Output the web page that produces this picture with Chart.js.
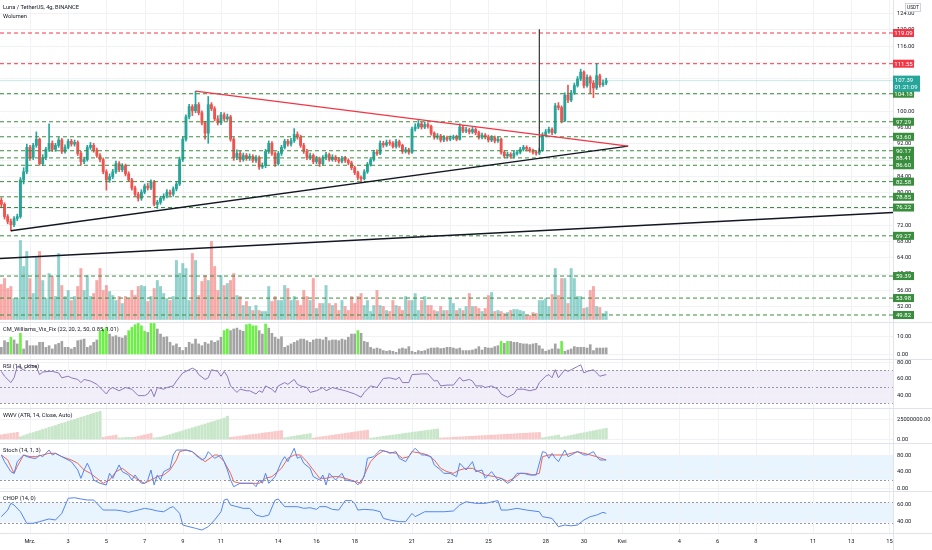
<!DOCTYPE html>
<html>
<head>
<meta charset="utf-8">
<script src="https://cdn.jsdelivr.net/npm/chart.js@4.4.1/dist/chart.umd.min.js"></script>
<style>
html, body { margin: 0; padding: 0; background: #fff; }
#wrap { position: relative; width: 932px; height: 550px; overflow: hidden; }
#wrap canvas { position: absolute; left: 0; }
</style>
</head>
<body>
<div id="wrap">
  <canvas id="cPrice" width="932" height="322" style="top:0px"></canvas>
  <canvas id="cVix" width="932" height="37" style="top:322px"></canvas>
  <canvas id="cRsi" width="932" height="49" style="top:359px"></canvas>
  <canvas id="cWwv" width="932" height="35" style="top:408px"></canvas>
  <canvas id="cStoch" width="932" height="48" style="top:443px"></canvas>
  <canvas id="cChop" width="932" height="59" style="top:491px"></canvas>
</div>
<script>
const FONT = 'Roboto, "Liberation Sans", sans-serif';

// LUNA/USDT 4h candles, 27 Feb 12:00 .. 31 Mar
const opens = [78.0,77.0,74.0,72.8,72.0,73.5,74.0,83.0,85.0,91.0,
88.5,91.5,93.0,87.0,88.5,90.5,92.0,90.5,91.5,92.8,
90.0,91.0,92.5,91.8,92.2,89.5,87.5,88.0,91.0,91.5,
90.3,89.0,88.0,85.0,83.0,83.8,85.0,87.0,85.5,86.5,
84.5,83.0,81.0,79.5,78.5,80.0,81.5,81.0,82.5,77.0,
77.5,78.5,79.0,80.0,79.5,80.8,82.0,88.0,93.0,98.5,
101.0,100.0,101.5,99.5,97.0,94.5,101.5,100.5,98.0,97.0,
99.0,98.0,98.5,93.0,88.5,89.5,88.0,89.0,88.3,88.8,
87.8,88.5,86.2,86.5,90.0,92.0,89.5,87.0,89.5,91.0,
92.5,91.8,92.6,94.2,93.5,91.5,90.0,88.5,89.0,87.5,
88.2,87.0,88.5,89.2,88.0,88.6,88.0,87.6,88.3,87.8,
87.2,86.0,84.8,83.6,83.3,85.0,86.8,88.0,89.8,89.5,
92.0,91.6,92.2,92.0,91.2,92.4,91.5,90.0,90.4,89.8,
95.5,96.0,96.8,96.0,96.6,96.2,94.5,93.5,93.8,92.8,
93.4,93.0,93.3,93.6,93.0,96.0,95.0,95.3,94.8,95.4,
94.6,93.5,94.0,93.6,92.8,93.4,92.6,93.0,89.8,88.9,
89.3,88.8,89.5,89.8,90.5,91.0,90.6,90.2,89.8,89.6,
90.2,94.0,94.8,95.4,94.6,101.2,100.8,97.6,103.8,102.6,
104.4,106.2,107.8,109.5,106.2,108.2,106.8,105.6,108.6,106.4,
106.8];
const highs = [78.6,77.4,74.5,73.4,74.0,74.6,83.6,86.0,91.8,91.5,
92.0,94.8,93.3,89.2,91.0,96.8,92.6,92.0,93.4,93.2,
91.6,93.0,93.0,92.8,92.6,90.0,88.6,91.5,92.2,92.0,
90.8,89.5,88.4,85.5,84.5,85.6,87.6,87.5,87.0,86.9,
85.0,83.4,81.5,80.0,80.6,82.0,82.2,83.0,82.9,78.0,
79.0,79.6,80.6,80.5,81.3,82.6,88.6,93.6,99.0,101.6,
101.5,104.8,102.0,100.0,97.4,103.5,102.0,101.0,98.8,99.6,
99.5,99.2,98.9,93.4,90.4,90.0,89.6,89.5,89.4,89.2,
89.0,88.9,87.2,90.5,92.6,92.4,89.9,90.0,91.5,93.0,
93.0,93.2,95.6,94.8,94.0,92.0,90.5,89.6,89.4,88.8,
88.6,89.0,89.8,89.6,89.2,89.0,88.5,88.8,88.8,88.2,
87.6,86.4,85.2,84.0,85.5,87.3,88.5,90.3,90.4,92.6,
92.5,92.8,92.8,92.4,93.0,92.8,91.8,91.0,90.8,96.0,
96.8,97.6,97.2,97.3,97.0,96.5,94.8,94.4,94.2,93.9,
93.8,93.8,94.0,94.0,96.8,96.4,95.9,95.7,95.9,95.8,
95.0,94.5,94.4,94.0,93.9,93.8,93.5,93.3,90.2,89.8,
89.7,90.0,90.3,91.0,91.5,91.4,91.0,90.6,90.2,90.8,
94.6,95.4,96.0,95.8,101.8,102.0,101.2,104.4,106.3,105.0,
106.8,108.4,110.2,109.8,108.8,108.6,107.4,111.6,109.0,107.6,
108.0];
const lows = [76.3,73.4,72.2,70.5,71.5,73.0,73.6,82.0,84.5,87.8,
88.0,91.0,86.6,86.5,88.0,90.0,90.0,90.0,91.0,89.5,
89.6,90.6,91.3,91.3,89.0,86.6,87.0,87.6,90.5,89.8,
88.5,87.4,84.5,80.5,82.4,83.3,84.6,85.0,85.0,84.0,
82.6,80.5,79.0,77.8,78.0,79.6,80.5,80.6,76.6,76.0,
77.0,78.0,78.6,79.0,79.0,80.3,81.6,87.5,92.5,98.0,
98.8,99.5,99.0,96.5,93.0,92.0,100.0,97.5,96.5,96.6,
97.5,97.6,92.5,87.8,88.0,87.4,87.6,87.8,87.8,87.3,
87.3,85.6,85.8,86.0,89.5,89.0,86.3,86.6,89.0,90.6,
91.3,91.3,92.2,93.0,91.0,89.5,88.0,88.0,87.0,87.0,
86.3,86.6,88.0,87.6,87.6,87.5,87.1,87.2,87.3,86.7,
85.5,84.3,83.0,82.6,83.0,84.6,86.4,87.6,89.0,89.2,
91.0,91.2,91.5,90.8,90.8,91.0,89.5,89.6,89.3,89.5,
95.0,95.6,95.5,95.6,95.7,94.0,93.0,93.0,92.3,92.4,
92.5,92.6,92.9,92.6,92.8,94.6,94.6,94.3,94.4,94.1,
93.0,93.1,93.1,92.3,92.4,92.1,92.2,89.3,88.4,88.4,
88.3,88.4,89.1,89.4,90.1,90.1,89.8,89.3,89.1,89.2,
90.0,93.6,94.4,94.1,94.3,100.2,97.0,97.3,102.0,102.2,
104.0,105.8,107.4,105.6,105.8,104.2,103.2,105.2,105.8,106.0,
106.4];
const closes = [77.0,74.0,72.8,72.0,73.5,74.0,83.0,85.0,91.0,88.5,
91.5,93.0,87.0,88.5,90.5,92.0,90.5,91.5,92.8,90.0,
91.0,92.5,91.8,92.2,89.5,87.5,88.0,91.0,91.5,90.3,
89.0,88.0,85.0,83.0,83.8,85.0,87.0,85.5,86.5,84.5,
83.0,81.0,79.5,78.5,80.0,81.5,81.0,82.5,77.0,77.5,
78.5,79.0,80.0,79.5,80.8,82.0,88.0,93.0,98.5,101.0,
100.0,101.5,99.5,97.0,94.5,101.5,100.5,98.0,97.0,99.0,
98.0,98.5,93.0,88.5,89.5,88.0,89.0,88.3,88.8,87.8,
88.5,86.2,86.5,90.0,92.0,89.5,87.0,89.5,91.0,92.5,
91.8,92.6,94.2,93.5,91.5,90.0,88.5,89.0,87.5,88.2,
87.0,88.5,89.2,88.0,88.6,88.0,87.6,88.3,87.8,87.2,
86.0,84.8,83.6,83.3,85.0,86.8,88.0,89.8,89.5,92.0,
91.6,92.2,92.0,91.2,92.4,91.5,90.0,90.4,89.8,95.5,
96.0,96.8,96.0,96.6,96.2,94.5,93.5,93.8,92.8,93.4,
93.0,93.3,93.6,93.0,96.0,95.0,95.3,94.8,95.4,94.6,
93.5,94.0,93.6,92.8,93.4,92.6,93.0,89.8,88.9,89.3,
88.8,89.5,89.8,90.5,91.0,90.6,90.2,89.8,89.6,90.2,
94.0,94.8,95.4,94.6,101.2,100.8,97.6,103.8,102.6,104.4,
106.2,107.8,109.5,106.2,108.2,106.8,105.6,108.6,106.4,106.8,
107.39];
// volume (thousand LUNA / 25)
const volumes = [35,41,31,33,21,21,79,53,68,41,
26,63,68,39,21,46,43,23,66,34,
23,29,19,23,33,51,29,44,23,26,
39,51,29,34,28,24,19,23,16,23,
21,29,24,33,34,33,18,23,31,39,
33,26,21,19,23,59,46,56,51,19,
66,59,24,38,44,39,78,53,29,44,
34,36,39,46,24,23,14,18,13,9,
14,9,8,8,33,18,23,19,19,34,
31,19,23,19,
14,29,23,19,41,11,16,16,34,16,
14,16,9,19,13,9,23,16,23,26,
14,19,8,14,29,14,13,9,8,19,
14,13,9,23,19,19,26,9,19,23,
14,14,9,8,13,9,9,21,16,9,
11,9,13,26,13,13,11,8,11,24,
27,8,9,8,6,7,9,10,10,9,8,4,
4,7,6,19,19,21,13,25,51,24,
41,41,16,51,41,23,23,11,12,29,
33,13,12,6,8];

const vixVals = [3.7,7.4,6.5,9.3,7.8,5.6,11.5,2.8,7.4,4.6,
4.6,4.6,6.5,6.5,3.7,4.6,2.8,5.2,5.9,7.0,
3.7,3.7,2.8,3.7,7.4,7.8,8.3,3.7,4.6,6.5,
7.8,12.6,13.9,14.8,11.1,9.6,10.2,9.3,8.9,10.2,
13,14.8,16.3,17,15.7,12.6,12,17,17,13.9,
11.1,9.3,9.6,6.5,4.6,5.6,3.7,1.9,3.7,6.5,
5.6,8.3,5.6,4.6,6.5,5.6,7.4,6.5,7.4,9.3,
13,13.9,13,13.9,14.4,13.3,12.6,16.3,16.7,15.7,
15.7,13,11.1,16.7,14.4,11.5,9.3,8.3,9.6,3.7,
4.6,5.6,6.5,7.4,8.3,8.3,7.4,
6.5,7.8,8.3,8.3,7.8,9.3,7.4,7.8,7.8,7.4,
8.3,7.8,9.3,11.1,11.1,13,11.5,7,6.5,3.7,
2.8,3.3,2.8,1.9,1.5,1.9,1.5,0.9,2.8,3.3,
2.8,4.1,1.5,0.9,1.9,1.5,1.9,2.8,3.3,3.3,
3.5,3.0,3.2,
3.7,3.7,3.3,2.8,3.3,1.9,1.9,1.9,2.2,2.8,
4.1,2.2,3.7,3.3,3.3,4.1,4.6,7,5.9,7,
7,6.5,6.5,5.9,5.6,5.6,5.2,5.6,5.9,4.6,
2.8,1.5,2.2,2.8,5.6,2.8,7,1.5,2.2,2.8,
4.1,3.7,3.7,3.7,3.3,5.2,1.9,3.3,3.3,3.3,
3.4];
const vixAlertIdx = [3,6,31,32,33,40,41,42,43,44,45,47,48,70,71,77,78,79,80,83,112,157,159,176];

const rsiIdx = [0,1,3,4,5,7,9,11,12,13,15,16,18,19,21,22,24,25,26,28,30,32,33,34,35,37,39,41,43,45,46,47,48,49,51,52,54,55,57,58,60,61,62,64,65,66,68,69,70,71,72,73,74,75,77,78,80,81,82,83,85,86,87,89,90,92,93,94,96,97,99,
100,101,102,104,106,108,111,113,114,116,118,120,122,124,125,126,128,129,132,134,136,137,138,140,142,144,145,147,148,149,151,152,154,156,157,159,161,162,164,166,168,169,171,172,173,174,175,177,178,179,181,182,183,184,186,187,188,190];
const rsiVals = [68.6,62.7,55,60.8,74.5,70.6,76.5,74.5,64.7,67.8,68.6,68.6,66.7,60.8,62.7,60.8,58.8,55,58.8,56.9,52.9,45.1,41.2,47,49,45.1,49,47,39.2,39.2,41.2,47,38,49,47,49,51,56.9,66.7,68.6,72.5,70.6,64.7,58.8,60.8,70.6,68.6,62.7,68.6,62.7,51,47,43.1,47,45.1,45.1,41.2,45.1,43.1,51,47,43.1,51,55,52.9,58.8,52.9,51,49,43.1,45.1,
47,49,45.1,49,47,45.1,41.2,37.3,43.1,51,49,60,60.8,58.8,61.5,55,55,64.7,65.5,65.5,56.9,57.5,51,52,52,61.5,56.9,58.8,56.9,51,51,49,51,47,41.2,37.3,41.2,47,47,45.1,47,55,62.7,64.7,60.8,70.6,60.8,70.6,68.6,70.6,74.5,76.5,66.7,68.6,70.6,66.7,62.7,64.7];

// WWV bar height in millions, sign = bar colour (+ green, - red)
const wwvVals = [-5.2,-6.0,-6.4,-7.1,-7.6,-8.3,
2.8,4.1,5.6,6.9,8.0,9.4,10.5,11.9,13.0,14.5,15.6,16.8,18.3,19.5,20.6,22.1,23.2,24.4,25.9,27.0,28.2,29.7,30.8,32.0,33.3,34.5,
-2.0,-2.9,-3.6,-4.2,-4.9,
1.4,1.6,1.8,2.0,2.1,
-2.4,-3.3,-4.2,-5.1,-6.0,-6.9,
1.3,1.9,2.4,3.2,4.4,5.5,6.8,8.0,9.1,10.3,11.6,12.7,14.0,15.2,16.3,17.6,18.8,20.1,21.2,22.4,23.7,24.8,26.1,28.5,
-2.0,-2.5,-3.1,-3.6,-4.1,-4.6,-5.2,-5.7,-6.2,-6.7,-7.3,-7.8,-8.3,-8.8,-9.4,-9.9,-10.4,
1.6,2.2,2.9,3.5,4.2,4.8,5.5,6.1,6.8,
-1.2,-1.8,-2.4,-3.0,-3.6,-4.2,-4.7,-5.3,-5.9,-6.5,-7.1,-7.6,-8.2,-8.8,-9.4,-10.0,-10.5,-11.1,
1.1,1.6,2.2,2.7,3.3,3.8,4.4,4.9,5.5,6.0,6.6,7.1,7.7,8.2,8.8,9.3,9.9,10.4,11.0,11.5,12.1,12.6,
-1.3,-1.5,-1.7,-1.9,-2.2,-2.4,-2.6,-2.8,-3.1,-3.3,-3.5,-3.7,-4.0,-4.2,-4.4,-4.6,-4.9,-5.1,-5.3,-5.5,-5.8,-6.0,-6.2,-6.4,-6.7,-6.9,-7.1,-7.3,-7.6,-7.8,-8.0,-8.2,
1.5,2.2,2.9,3.6,4.3,5.0,
1.8,3.0,3.8,4.6,5.4,6.2,7.0,7.8,8.6,9.4,10.2,11.0,11.8,12.6,13.4];

const kIdx = [0,1,3,4,5,7,8,10,11,12,13,15,16,17,19,21,22,24,25,26,27,28,29,31,33,34,35,37,38,40,41,42,44,45,46,47,48,49,50,51,53,54,55,57,58,60,61,63,64,65,67,69,70,71,72,73,74,75,77,79,80,81,82,83,84,86,88,89,90,92,93,94,95,97,98,100,
101,102,103,105,107,108,111,112,114,115,117,119,121,122,124,125,127,129,130,132,133,135,136,138,139,141,143,144,146,148,149,151,152,154,156,157,159,160,162,164,166,168,170,171,172,173,174,175,177,178,180,181,183,184,186,187,188,190];
const kVals = [80,63.8,39.5,35.5,63.8,80,75.9,72,72,80,75.9,92,80,84,75.9,67.9,63.8,43.6,23.5,43.6,59.9,43.6,19.4,11.4,7.3,35.5,23.5,55.8,39.5,31.5,19.4,31.5,11.4,11.4,19.4,43.6,7.3,31.5,19.4,39.5,47.7,80,92,92,92,88,80,67.9,72,88,72,80,63.8,43.6,19.4,3.2,7.3,11.4,11.4,11.4,3.2,19.4,11.4,35.5,11.4,27.5,63.8,75.9,63.8,96.2,72,75.9,59.9,47.7,27.5,19.4,
31.5,7.3,35.5,19.4,35.5,19.4,15.4,7.3,27.5,72,75.9,92,88,84,88,72,63.8,88,96.2,80,80,75.9,55.8,43.6,35.5,35.5,27.5,59.9,43.6,63.8,39.5,43.6,23.5,39.5,19.4,23.5,11.4,15.4,35.5,35.5,31.5,31.5,88,86,72,84,72,63.8,92,75.9,84,88,80,80,88,75.9,67.9,67.9];
const dIdx = [0,2,4,5,7,9,11,13,15,17,19,22,24,26,28,30,32,34,36,38,40,43,45,47,49,51,53,55,56,58,60,62,64,67,68,70,72,73,75,77,79,81,83,85,88,90,92,94,96,98,100,102,104,106,108,111,113,114,116,118,120,122,124,126,128,129,132,134,136,138,140,142,144,146,148,150,152,155,157,159,161,163,165,167,169,170,172,174,177,179,181,183,185,187,190];
const dVals = [80,67.9,35.5,52,80,75.9,75.9,80,84,84,75.9,67.9,59.9,43.6,35.5,23.5,11.4,19.4,39.5,47.7,35.5,19.4,11.4,19.4,27.5,31.5,43.6,67.9,88,92,88,75.9,63.8,80,80,63.8,35.5,15.4,11.4,11.4,11.4,11.4,23.5,27.5,47.7,72,80,80,63.8,43.6,23.5,23.5,27.5,27.5,23.5,16.2,11.4,31.5,63.8,80,90,86,84,72,75.9,88,84,80,67.9,47.7,39.5,35.5,43.6,47.7,47.7,39.5,31.5,27.5,23.5,16.2,23.5,35.5,35.5,31.5,35.5,75.9,80,80,80,84,88,84,80,75.9,67.9];

const chopIdx = [0,2,3,4,6,8,10,12,13,15,17,19,21,23,25,27,29,30,32,34,36,38,40,43,45,47,49,51,53,54,56,57,59,61,63,65,67,69,70,71,72,74,76,78,80,82,84,86,87,89,91,93,95,97,99,100,
102,104,106,108,110,111,112,114,117,119,120,122,125,127,129,130,133,136,139,142,144,146,149,152,156,157,159,162,165,169,170,173,175,177,179,181,183,185,187,189,190];
const chopVals = [45.1,52.9,60.8,58.8,50.9,37.3,37.3,39.2,40.4,42.4,41.2,49,66.7,67.4,65.9,64.7,64.7,60.8,52.9,52.9,52.9,51.8,50.2,52.9,54.9,53.7,51.8,50.9,55.6,56.9,49,35.3,33.3,31.4,29.4,33.3,41.2,50.9,64.7,65.9,58.8,56.9,54.9,54.9,47,45.1,47,64.7,65.9,56.9,56.9,56.9,54.9,55.6,53.7,56.9,
56.9,53.7,52.9,64,64,60.8,52.9,53.7,52.9,50.9,43.1,41.2,39.2,39.2,49,45.1,50.9,50.9,50.9,51.8,58.8,62.7,60.8,60.8,64,52.9,52.9,54.9,52.9,50.9,45.1,43.1,33.3,35.3,34.3,35.3,41.2,45.1,47,50.2,49];

// drawn levels and trend lines
const levelsRed = [119.09, 111.55];
const levelsGreen = [104.18, 97.29, 93.60, 90.17, 88.41, 86.60, 82.58, 78.85, 76.22, 69.27, 59.39, 53.98, 49.82];
const lastPrice = 107.39;
const countdown = '01:21:09';
const trendRed = [[61, 104.8], [196.9, 91.3]];
const trendBlackA = [[3, 70.5], [196.9, 91.3]];
const trendBlackB = [[-0.42, 63.7], [280.1, 75.0]];
const spikeIdx = 169;
const spikeRange = [90.0, 120.0];

const priceTicks = [52,56,60,64,68,72,76,80,84,88,92,96,100,104,108,112,116,120,124];
const dateLabels = ['Mrz.','3','5','7','9','11','14','16','18','21','23','25','28','30','Kwi','4','6','8','11','13','15'];
const dateDays = [1,3,5,7,9,11,14,16,18,21,23,25,28,30,32,35,37,39,42,44,46];
const dateIdx = dateDays.map(d => 9 + (d - 1) * 6);

const X_MIN = -0.42, X_MAX = 280.1;
const UP = '#26a69a', DOWN = '#ef5350';
const GRID = '#f1f2f6', SEP = '#e0e3eb', TXT = '#131722';
const FS = 5.7;

function scalesFor(min, max) {
  return {
    x: { type: 'linear', min: X_MIN, max: X_MAX, offset: false, display: false },
    y: { type: 'linear', min: min, max: max, display: false }
  };
}
function opts(min, max, bottom) {
  return {
    responsive: false, animation: false, events: [],
    layout: { padding: { left: 0, top: 0, right: 39, bottom: bottom || 0 } },
    plugins: { legend: { display: false }, tooltip: { enabled: false } },
    elements: { point: { radius: 0 }, line: { tension: 0 } },
    scales: scalesFor(min, max)
  };
}
// grid, right-hand value axis, date axis, pane separators and titles
function axesPlugin(ticks, fmt, titles, sep, showDates) {
  return {
    id: 'axes',
    beforeDatasetsDraw(chart) {
      const { ctx, chartArea: a } = chart;
      const x = chart.scales.x, y = chart.scales.y;
      ctx.save();
      ctx.strokeStyle = GRID;
      ctx.lineWidth = 1;
      dateIdx.forEach(v => {
        const px = Math.round(x.getPixelForValue(v)) + 0.5;
        ctx.beginPath(); ctx.moveTo(px, a.top); ctx.lineTo(px, a.bottom); ctx.stroke();
      });
      ticks.forEach(v => {
        const py = Math.round(y.getPixelForValue(v)) + 0.5;
        ctx.beginPath(); ctx.moveTo(a.left, py); ctx.lineTo(a.right, py); ctx.stroke();
      });
      ctx.restore();
    },
    afterDraw(chart) {
      const { ctx, chartArea: a } = chart;
      const x = chart.scales.x, y = chart.scales.y;
      ctx.save();
      ctx.fillStyle = SEP;
      ctx.fillRect(Math.round(a.right), 0, 1, chart.height);
      if (sep) ctx.fillRect(0, 0, chart.width, 1);
      ctx.font = FS + 'px ' + FONT;
      ctx.fillStyle = TXT;
      ctx.textBaseline = 'middle';
      ctx.textAlign = 'left';
      ticks.forEach(v => ctx.fillText(fmt(v), a.right + 4, y.getPixelForValue(v) + 0.5));
      titles.forEach((t, k) => ctx.fillText(t, 3, 7.5 + k * 9));
      if (showDates) {
        ctx.fillStyle = SEP;
        ctx.fillRect(0, Math.round(a.bottom), chart.width, 1);
        ctx.fillStyle = TXT;
        ctx.textAlign = 'center';
        dateIdx.forEach((v, k) => ctx.fillText(dateLabels[k], x.getPixelForValue(v), a.bottom + 9));
      }
      ctx.restore();
    }
  };
}
function bandPlugin(lo, hi, fill, levels) {
  return {
    id: 'band',
    beforeDatasetsDraw(chart) {
      const { ctx, chartArea: a } = chart;
      const y = chart.scales.y;
      const y1 = y.getPixelForValue(hi), y2 = y.getPixelForValue(lo);
      ctx.save();
      ctx.fillStyle = fill;
      ctx.fillRect(a.left, y1, a.right - a.left, y2 - y1);
      ctx.strokeStyle = '#9598a1';
      ctx.lineWidth = 1;
      ctx.setLineDash([2, 2]);
      levels.forEach(v => {
        const py = Math.round(y.getPixelForValue(v)) + 0.5;
        ctx.beginPath(); ctx.moveTo(a.left, py); ctx.lineTo(a.right, py); ctx.stroke();
      });
      ctx.restore();
    }
  };
}
const fmt2 = v => v.toFixed(2);

// ---- price pane ----
const idx = closes.map((c, i) => i);
const candleCol = idx.map(i => closes[i] >= opens[i] ? UP : DOWN);
const volCol = idx.map(i => closes[i] >= opens[i] ? 'rgba(38,166,154,0.5)' : 'rgba(239,83,80,0.5)');

function hLine(v, color) {
  return { type: 'line', data: [{ x: X_MIN, y: v }, { x: X_MAX, y: v }], borderColor: color, borderWidth: 1, borderDash: [4, 3], order: 1 };
}
function seg(pts, color, w) {
  return { type: 'line', data: pts.map(p => ({ x: p[0], y: p[1] })), borderColor: color, borderWidth: w, order: 0 };
}
const priceSets = [];
levelsRed.forEach(v => priceSets.push(hLine(v, '#f23645')));
levelsGreen.forEach(v => priceSets.push(hLine(v, '#388e3c')));
priceSets.push({ type: 'line', data: [{ x: X_MIN, y: lastPrice }, { x: X_MAX, y: lastPrice }], borderColor: 'rgba(38,166,154,0.25)', borderWidth: 1, order: 1 });
priceSets.push(seg(trendRed, '#f23645', 1.3));
priceSets.push(seg(trendBlackA, '#131722', 1.4));
priceSets.push(seg(trendBlackB, '#131722', 1.4));
priceSets.push(seg([[spikeIdx, spikeRange[0]], [spikeIdx, spikeRange[1]]], '#333333', 1.2));
priceSets.push({ type: 'bar', data: idx.map(i => ({ x: i, y: [opens[i], closes[i]] })), backgroundColor: candleCol, barThickness: 2.2, minBarLength: 1, grouped: false, order: 2 });
priceSets.push({ type: 'bar', data: idx.map(i => ({ x: i, y: [lows[i], highs[i]] })), backgroundColor: candleCol, barThickness: 1, grouped: false, order: 3 });
priceSets.push({ type: 'bar', yAxisID: 'yv', data: idx.map(i => ({ x: i, y: volumes[i] })), backgroundColor: volCol, barThickness: 2.3, grouped: false, order: 5 });

const priceLabels = {
  id: 'priceLabels',
  afterDraw(chart) {
    const ctx = chart.ctx, y = chart.scales.y, left = Math.round(chart.chartArea.right);
    ctx.save();
    ctx.font = '6px ' + FONT;
    ctx.textBaseline = 'middle';
    ctx.textAlign = 'center';
    const box = (v, col) => {
      const py = y.getPixelForValue(v);
      ctx.fillStyle = col; ctx.fillRect(left, py - 4, 21, 8);
      ctx.fillStyle = '#fff'; ctx.fillText(v.toFixed(2), left + 10.5, py + 0.4);
    };
    levelsGreen.forEach(v => box(v, '#388e3c'));
    levelsRed.forEach(v => box(v, '#f23645'));
    const py = y.getPixelForValue(lastPrice);
    ctx.fillStyle = UP; ctx.fillRect(left, py - 5, 27, 16);
    ctx.fillStyle = '#fff';
    ctx.fillText(lastPrice.toFixed(2), left + 11, py - 0.5);
    ctx.fillText(countdown, left + 13, py + 6.5);
    // currency button
    ctx.fillStyle = '#fff'; ctx.fillRect(905, 3, 16, 9);
    ctx.strokeStyle = '#d1d4dc'; ctx.lineWidth = 1; ctx.strokeRect(905.5, 3.5, 15, 8);
    ctx.font = '4.8px ' + FONT; ctx.fillStyle = TXT; ctx.fillText('USDT', 913, 7.8);
    ctx.restore();
  }
};

const priceOpts = opts(48.1, 127.2);
priceOpts.scales.yv = { display: false, min: -2.5, max: 319.5 };
new Chart(document.getElementById('cPrice'), {
  type: 'bar',
  data: { datasets: priceSets },
  options: priceOpts,
  plugins: [axesPlugin(priceTicks, fmt2, ['Luna / TetherUS, 4g, BINANCE', 'Wolumen'], false, false), priceLabels]
});

// ---- CM_Williams_Vix_Fix ----
new Chart(document.getElementById('cVix'), {
  type: 'bar',
  data: { datasets: [{
    data: vixVals.map((v, i) => ({ x: i, y: v })),
    backgroundColor: vixVals.map((v, i) => vixAlertIdx.includes(i) ? '#6cf045' : '#a3a3a3'),
    barThickness: 2, grouped: false
  }] },
  options: opts(-2.8, 17.8),
  plugins: [axesPlugin([0, 10], fmt2, ['CM_Williams_Vix_Fix (22, 20, 2, 50, 0.85, 1.01)'], true, false)]
});

// ---- RSI ----
new Chart(document.getElementById('cRsi'), {
  type: 'line',
  data: { datasets: [{ data: rsiIdx.map((x, k) => ({ x: x, y: rsiVals[k] })), borderColor: '#8b78b8', borderWidth: 1 }] },
  options: opts(24.2, 83.6),
  plugins: [bandPlugin(30, 70, 'rgba(126,87,194,0.1)', [70, 50, 30]), axesPlugin([40, 60, 80], fmt2, ['RSI (14, close)'], true, false)]
});

// ---- WWV ----
new Chart(document.getElementById('cWwv'), {
  type: 'bar',
  data: { datasets: [{
    data: wwvVals.map((v, i) => ({ x: i, y: Math.abs(v) })),
    backgroundColor: wwvVals.map(v => v >= 0 ? '#c8e6c9' : '#f9c9c9'),
    barThickness: 2.4, grouped: false
  }] },
  options: opts(-5, 38.75),
  plugins: [axesPlugin([0, 25], v => (v * 1e6).toFixed(2), ['WWV (ATR, 14, Close, Auto)'], true, false)]
});

// ---- Stoch ----
new Chart(document.getElementById('cStoch'), {
  type: 'line',
  data: { datasets: [
    { data: kIdx.map((x, k) => ({ x: x, y: kVals[k] })), borderColor: '#5585f2', borderWidth: 1 },
    { data: dIdx.map((x, k) => ({ x: x, y: dVals[k] })), borderColor: '#f0654f', borderWidth: 1 }
  ] },
  options: opts(-7.3, 109),
  plugins: [bandPlugin(20, 80, 'rgba(33,150,243,0.1)', [80, 20]), axesPlugin([0, 40, 80], fmt2, ['Stoch (14, 1, 3)'], true, false)]
});

// ---- CHOP ----
new Chart(document.getElementById('cChop'), {
  type: 'line',
  data: { datasets: [{ data: chopIdx.map((x, k) => ({ x: x, y: chopVals[k] })), borderColor: '#5585f2', borderWidth: 1 }] },
  options: opts(25.9, 75.3, 17),
  plugins: [bandPlugin(38.2, 61.8, 'rgba(33,150,243,0.1)', [61.8, 38.2]), axesPlugin([40, 60], fmt2, ['CHOP (14, 0)'], true, true)]
});
</script>
</body>
</html>
